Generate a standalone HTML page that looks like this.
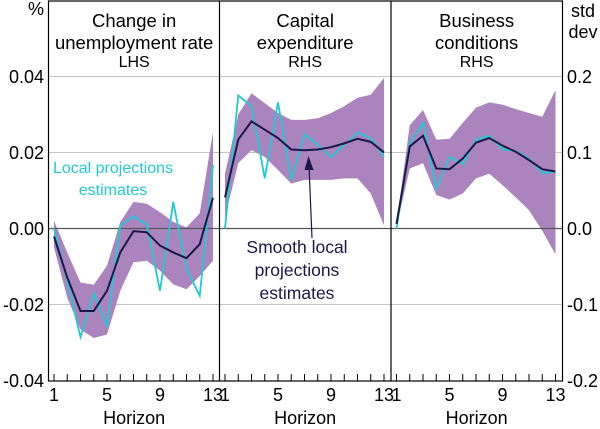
<!DOCTYPE html>
<html><head><meta charset="utf-8"><style>
html,body{margin:0;padding:0;background:#fff;}
svg{display:block;font-family:"Liberation Sans",Arial,sans-serif;}
</style></head><body>
<svg id="chart" width="600" height="429" viewBox="0 0 600 429"></svg>
<script>
// Data
const horizons = [1,2,3,4,5,6,7,8,9,10,11,12,13];
const panelTitles = [["Change in","unemployment rate"],["Capital","expenditure"],["Business","conditions"]];
const panelSides = ["LHS","RHS","RHS"];
const leftTicks = [0.04,0.02,0.00,-0.02,-0.04];
const leftTickLabels = ["0.04","0.02","0.00","-0.02","-0.04"];
const rightTicks = [0.2,0.1,0.0,-0.1,-0.2];
const rightTickLabels = ["0.2","0.1","0.0","-0.1","-0.2"];
const xTickLabels = [1,5,9,13];
// Panel 1 (%, LHS)
const unempSmooth = [-0.0021,-0.0129,-0.0217,-0.0217,-0.0164,-0.0063,-0.0007,-0.0010,-0.0045,-0.0063,-0.0078,-0.0041,0.0081];
const unempLP = [0.0000,-0.0138,-0.0286,-0.0171,-0.0257,0.0008,0.0032,0.0010,-0.0164,0.0070,-0.0107,-0.0177,0.0167];
const unempUpper = [0.0020,-0.0063,-0.0142,-0.0148,-0.0098,0.0017,0.0070,0.0065,0.0043,0.0017,0.0003,0.0040,0.0254];
const unempLower = [-0.0050,-0.0182,-0.0266,-0.0288,-0.0279,-0.0164,-0.0089,-0.0085,-0.0111,-0.0147,-0.0160,-0.0125,-0.0085];
// Panel 2 (std dev, RHS)
const capexSmooth = [0.041,0.117,0.141,0.130,0.119,0.104,0.103,0.104,0.107,0.112,0.118,0.114,0.100];
const capexLP = [0.000,0.175,0.161,0.066,0.166,0.064,0.124,0.110,0.094,0.110,0.126,0.119,0.094];
const capexUpper = [0.072,0.150,0.178,0.165,0.152,0.143,0.143,0.145,0.152,0.161,0.172,0.176,0.198];
const capexLower = [0.015,0.086,0.103,0.094,0.077,0.059,0.064,0.064,0.064,0.066,0.066,0.046,0.004];
// Panel 3 (std dev, RHS)
const busSmooth = [0.006,0.108,0.122,0.079,0.078,0.092,0.113,0.119,0.109,0.101,0.090,0.078,0.075];
const busLP = [0.000,0.112,0.139,0.053,0.094,0.085,0.117,0.122,0.104,0.102,0.092,0.073,0.075];
const busUpper = [0.006,0.136,0.156,0.117,0.118,0.139,0.159,0.166,0.163,0.157,0.152,0.147,0.182];
const busLower = [0.002,0.079,0.086,0.044,0.038,0.046,0.066,0.072,0.057,0.041,0.024,-0.003,-0.034];

const svg = document.getElementById('chart');
const NS = 'http://www.w3.org/2000/svg';
function mk(tag, attrs, parent){const e=document.createElementNS(NS,tag);for(const k in attrs)e.setAttribute(k,attrs[k]);(parent||svg).appendChild(e);return e;}

const L=48.5, R=562.5, T=1, B=381;
const panelX=[48.5,219.5,391];
const panelW=171.3;
const Y0=228.5, PX=3800; // left axis: px per unit
function yL(v){return Y0 - v*PX;}
function yR(v){return Y0 - v*PX*0.2;}
function xH(p,h){return panelX[p]+5.5+(h-1)*13.25;}

// gridlines
leftTicks.forEach((t,i)=>{
  if(t===0.04||t===0.02||t===-0.02){
    const g=mk('line',{x1:L,x2:R,y1:yL(t),y2:yL(t),stroke:'#c4c4c4','stroke-width':1});
    
    
  }
});

const series=[
  {up:unempUpper,lo:unempLower,lp:unempLP,sm:unempSmooth,y:yL},
  {up:capexUpper,lo:capexLower,lp:capexLP,sm:capexSmooth,y:yR},
  {up:busUpper,lo:busLower,lp:busLP,sm:busSmooth,y:yR}
];
series.forEach((s,p)=>{
  let d='';
  horizons.forEach((h,i)=>{d+=(i?'L':'M')+xH(p,h)+','+s.y(s.up[i]);});
  for(let i=horizons.length-1;i>=0;i--) d+='L'+xH(p,horizons[i])+','+s.y(s.lo[i]);
  const band=mk('path',{d:d+'Z',fill:'#ab84bd',stroke:'none'});
  
  
});
// zero line
const z=mk('line',{x1:L,x2:R,y1:yL(0),y2:yL(0),stroke:'#555','stroke-width':1.3});


series.forEach((s,p)=>{
  const lp=mk('polyline',{points:horizons.map((h,i)=>xH(p,h)+','+s.y(s.lp[i])).join(' '),fill:'none',stroke:'#22c9d3','stroke-width':1.8});
  
  
  const sm=mk('polyline',{points:horizons.map((h,i)=>xH(p,h)+','+s.y(s.sm[i])).join(' '),fill:'none',stroke:'#1b1748','stroke-width':2});
  
  
});

// frame and dividers
const fr=mk('rect',{x:L,y:T,width:R-L,height:B-T,fill:'none',stroke:'#000','stroke-width':1.2});


[panelX[1],panelX[2]].forEach(x=>{
  const dv=mk('line',{x1:x,x2:x,y1:T,y2:B,stroke:'#000','stroke-width':1.2});
  
  
});
// x ticks and labels
for(let p=0;p<3;p++){
  horizons.forEach(h=>{
    const tk=mk('line',{x1:xH(p,h),x2:xH(p,h),y1:B,y2:B-7,stroke:'#000','stroke-width':1});
    
    
  });
  xTickLabels.forEach(h=>{
    const t=mk('text',{x:xH(p,h),y:B+20,'text-anchor':'middle','font-size':18});
    t.textContent=h;
    
    
  });
  const ht=mk('text',{x:panelX[p]+panelW/2,y:424,'text-anchor':'middle','font-size':18});
  ht.textContent='Horizon';
  
  
  const t1=mk('text',{x:panelX[p]+panelW/2,y:27,'text-anchor':'middle','font-size':18.5});
  t1.textContent=panelTitles[p][0];
  
  
  const t2=mk('text',{x:panelX[p]+panelW/2,y:49,'text-anchor':'middle','font-size':18.5});
  t2.textContent=panelTitles[p][1];
  
  
  const t3=mk('text',{x:panelX[p]+panelW/2,y:67,'text-anchor':'middle','font-size':16});
  t3.textContent=panelSides[p];
  
  
}
// y tick labels
leftTicks.forEach((t,i)=>{
  const e=mk('text',{x:44,y:yL(t)+6.5,'text-anchor':'end','font-size':18});
  e.textContent=leftTickLabels[i];
  
  
});
rightTicks.forEach((t,i)=>{
  const e=mk('text',{x:567,y:yR(t)+6.5,'text-anchor':'start','font-size':18});
  e.textContent=rightTickLabels[i];
  
  
});
const pu=mk('text',{x:44,y:15,'text-anchor':'end','font-size':18});pu.textContent='%';


const ru1=mk('text',{x:583,y:17,'text-anchor':'middle','font-size':18});ru1.textContent='std';


const ru2=mk('text',{x:583,y:38,'text-anchor':'middle','font-size':18});ru2.textContent='dev';



// annotations
const a1=mk('text',{x:113,y:173,'text-anchor':'middle','font-size':16,fill:'#22c9d3'});a1.textContent='Local projections';


const a2=mk('text',{x:113,y:195,'text-anchor':'middle','font-size':16,fill:'#22c9d3'});a2.textContent='estimates';


['Smooth local','projections','estimates'].forEach((s,i)=>{
  const a=mk('text',{x:297,y:253+i*23,'text-anchor':'middle','font-size':17.5,fill:'#1b1748'});a.textContent=s;
  
  
});
const ar=mk('line',{x1:312,y1:238,x2:309,y2:166,stroke:'#1b1748','stroke-width':1.2});


const ah=mk('polygon',{points:'308.5,156 304.5,170 313.5,170',fill:'#1b1748'});


</script>
</body></html>
